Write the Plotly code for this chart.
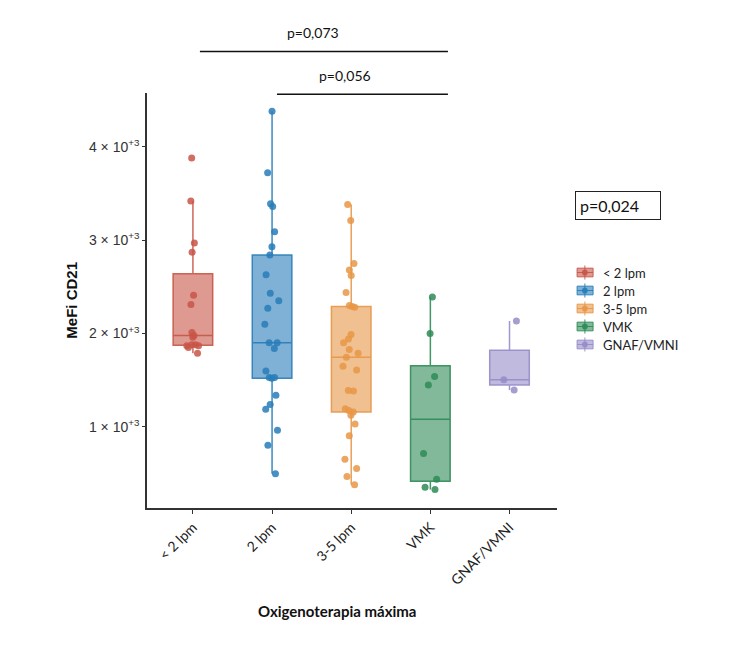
import numpy as np
import plotly.graph_objects as go

# categorias y valores (MeFi CD21)
categorias = ['< 2 lpm', '2 lpm', '3-5 lpm', 'VMK', 'GNAF/VMNI']
menos_2lpm = [3880, 3420, 2970, 2870, 2410, 2310, 2010, 1980, 1960, 1880, 1880, 1870, 1870, 1850, 1790]
lpm_2 = [4380, 3720, 3390, 3360, 3090, 2930, 2840, 2630, 2430, 2350, 2270, 2100, 1900, 1900, 1840,
         1600, 1530, 1530, 1520, 1340, 1240, 1190, 965, 805, 500]
lpm_3_5 = [3380, 3210, 2750, 2680, 2620, 2440, 2300, 2290, 2280, 1990, 1940, 1900, 1830, 1790, 1745,
           1650, 1610, 1390, 1385, 1195, 1175, 1160, 1125, 1030, 905, 655, 555, 470, 380]
vmk = [2390, 2000, 1540, 1450, 715, 440, 355, 330]
gnaf_vmni = [2135, 1505, 1395]
grupos = [menos_2lpm, lpm_2, lpm_3_5, vmk, gnaf_vmni]

y_ticks = [1000, 2000, 3000, 4000]
y_ticktext = [f'{v // 1000} \u00d7 10<sup>+3</sup>' for v in y_ticks]

colores = [(200, 85, 72), (40, 125, 185), (232, 150, 70), (46, 139, 87), (150, 140, 200)]


def rgba(c, a):
    return f'rgba({c[0]},{c[1]},{c[2]},{a})'


def box_stats(vals):
    v = np.array(vals, dtype=float)
    q1, med, q3 = np.percentile(v, [25, 50, 75])
    iqr = q3 - q1
    lf = v[v >= q1 - 1.5 * iqr].min()
    uf = v[v <= q3 + 1.5 * iqr].max()
    return q1, med, q3, lf, uf


fig = go.Figure()

for cat, vals, c in zip(categorias, grupos, colores):
    q1, med, q3, lf, uf = box_stats(vals)
    fig.add_trace(go.Box(x=[cat], q1=[q1], median=[med], q3=[q3],
                         lowerfence=[lf], upperfence=[uf],
                         fillcolor=rgba(c, 0.6), line=dict(color=rgba(c, 0.9), width=1.5),
                         whiskerwidth=0, width=0.5, boxpoints=False,
                         name=cat, showlegend=False))
    # puntos con jitter
    fig.add_trace(go.Box(x=[cat] * len(vals), y=vals, boxpoints='all', jitter=0.45, pointpos=0,
                         marker=dict(color=rgba(c, 0.85), size=7),
                         line=dict(color='rgba(0,0,0,0)', width=0),
                         fillcolor='rgba(0,0,0,0)', whiskerwidth=0, width=0.5,
                         name=cat, showlegend=False))

# leyenda dibujada a mano
shapes = []
annotations = []
for i, (cat, c) in enumerate(zip(categorias, colores)):
    yc = (508 - (272.5 + i * 18)) / 415
    shapes.append(dict(type='line', xref='paper', yref='paper', x0=1.068, x1=1.068,
                       y0=yc - 0.017, y1=yc + 0.017, line=dict(color=rgba(c, 0.9), width=1)))
    shapes.append(dict(type='rect', xref='paper', yref='paper', x0=1.049, x1=1.088,
                       y0=yc - 0.0105, y1=yc + 0.0105, fillcolor=rgba(c, 0.6),
                       line=dict(color=rgba(c, 0.9), width=1)))
    shapes.append(dict(type='line', xref='paper', yref='paper', x0=1.049, x1=1.088,
                       y0=yc, y1=yc, line=dict(color=rgba(c, 0.9), width=1)))
    shapes.append(dict(type='circle', xref='paper', yref='paper', x0=1.061, x1=1.075,
                       y0=yc - 0.0075, y1=yc + 0.0075, fillcolor=rgba(c, 0.9),
                       line=dict(width=0)))
    annotations.append(dict(text=cat, xref='paper', yref='paper', x=1.107, y=yc,
                            xanchor='left', yanchor='middle', showarrow=False,
                            font=dict(family='Lato', size=13, color='#222')))

# comparaciones
shapes.append(dict(type='line', xref='paper', yref='paper', x0=0.129, x1=0.734, y0=1.100, y1=1.100,
                   line=dict(color='#111', width=1.3)))
shapes.append(dict(type='line', xref='paper', yref='paper', x0=0.317, x1=0.734, y0=0.997, y1=0.997,
                   line=dict(color='#111', width=1.3)))
annotations += [
    dict(text='p=0,073', xref='paper', yref='paper', x=0.405, y=1.145, showarrow=False,
         xanchor='center', yanchor='middle', font=dict(family='Lato', size=14, color='#111')),
    dict(text='p=0,056', xref='paper', yref='paper', x=0.483, y=1.043, showarrow=False,
         xanchor='center', yanchor='middle', font=dict(family='Lato', size=14, color='#111')),
    dict(text='p=0,024', xref='paper', yref='paper', x=1.149, y=0.729, showarrow=False,
         xanchor='center', yanchor='middle',
         width=76, align='left', borderpad=4, bordercolor='#222', borderwidth=1,
         font=dict(family='Lato', size=16, color='#111')),
    dict(text='<b>MeFi CD21</b>', xref='paper', yref='paper', x=-0.185, y=0.5, showarrow=False,
         xanchor='center', yanchor='middle', textangle=-90,
         font=dict(family='Liberation Sans', size=15, color='#111')),
    dict(text='<b>Oxigenoterapia máxima</b>', xref='paper', yref='paper', x=0.463, y=-0.248,
         xanchor='center', yanchor='middle', showarrow=False,
         font=dict(family='Lato', size=15, color='#111')),
]

fig.update_layout(
    width=750, height=664, autosize=False,
    margin=dict(l=139, r=201, t=85, b=164),
    plot_bgcolor='white', paper_bgcolor='white',
    boxmode='overlay', showlegend=False,
    shapes=shapes, annotations=annotations,
)
fig.update_xaxes(type='category', categoryorder='array', categoryarray=categorias,
                 range=[-0.58, 4.6], showline=True, linecolor='#333', linewidth=1.5,
                 ticks='outside', ticklen=4, tickcolor='#333', tickangle=-45,
                 tickfont=dict(family='Lato', size=14, color='#222'), showgrid=False, zeroline=False)
fig.update_yaxes(range=[132, 4575], tickvals=y_ticks, ticktext=y_ticktext,
                 showline=True, linecolor='#333', linewidth=1.5,
                 ticks='outside', ticklen=3, tickcolor='#333',
                 tickfont=dict(family='Liberation Sans', size=14, color='#333'),
                 showgrid=False, zeroline=False)

fig.write_html("out.html")
